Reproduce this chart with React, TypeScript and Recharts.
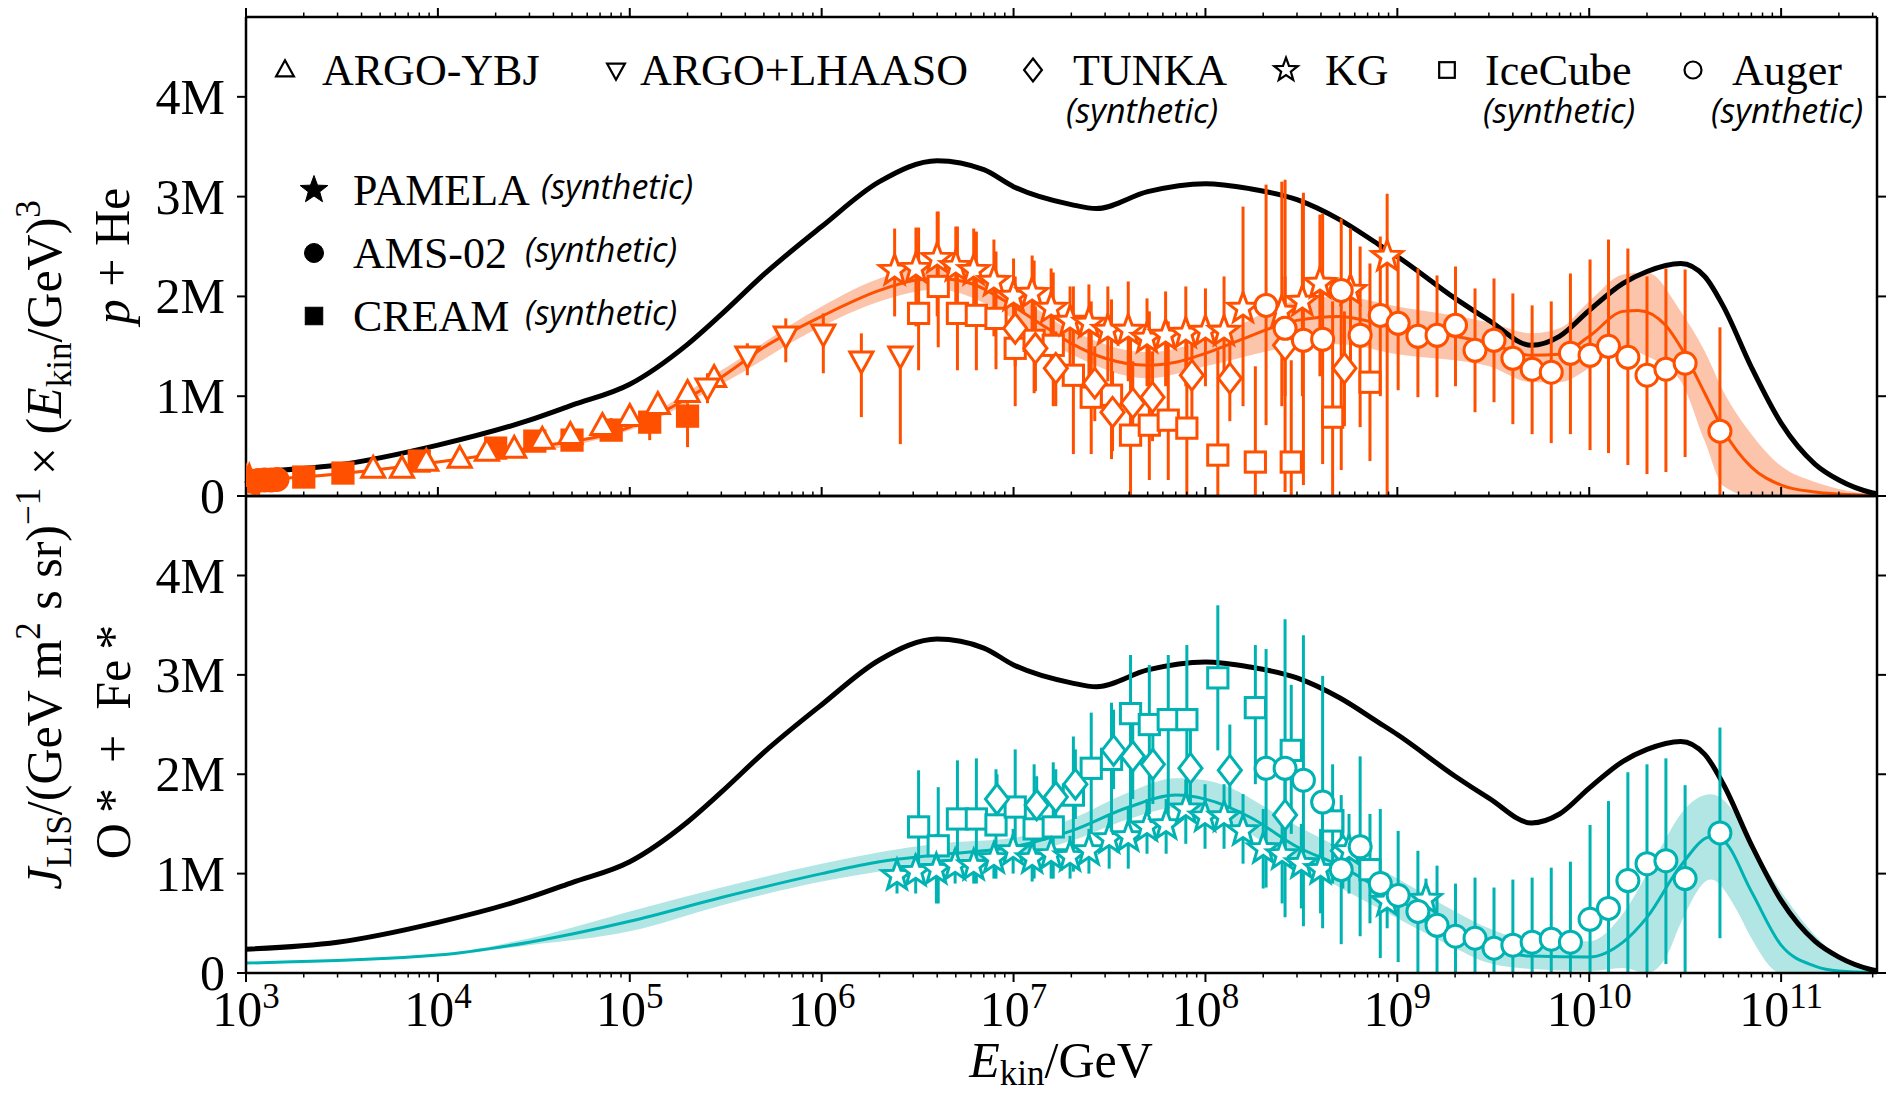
import React from 'react';
import { ComposedChart, XAxis, YAxis, Line, Area, Scatter, ErrorBar } from 'recharts';

const SERIF = '"Liberation Serif", "DejaVu Serif", "Times New Roman", serif';
const SANS = '"Open Sans", "Noto Sans", sans-serif';

const ORANGE = '#FF5000';
const ORANGE_BAND = '#FCC4AA';
const TEAL = '#00B2B2';
const TEAL_BAND = '#B2E6E4';

const X_MIN = 1e3;
const X_MAX = 3.16e11;
const Y_MAX = 4.8;
const Y_TICKS = [0, 1, 2, 3, 4];

// ---------- total (black) curve, identical in both panels (units: M) ----------
const TOTAL_E = [1e3, 3e3, 1e4, 3e4, 5e4, 1e5, 2e5, 3e5, 5e5, 1e6, 2e6, 4e6, 7e6, 1e7, 2e7, 2.7e7, 5e7, 1e8, 1.7e8, 3e8, 5e8, 8e8, 1e9, 2e9, 3e9, 5e9, 7e9, 1e10, 1.5e10, 2e10, 3e10, 4e10, 5e10, 7e10, 1e11, 1.5e11, 2e11, 3e11, 3.16e11];
const TOTAL_V = [0.24, 0.31, 0.51, 0.76, 0.91, 1.12, 1.52, 1.82, 2.22, 2.70, 3.15, 3.36, 3.27, 3.10, 2.92, 2.88, 3.05, 3.13, 3.08, 2.97, 2.77, 2.52, 2.40, 1.98, 1.76, 1.51, 1.60, 1.86, 2.13, 2.25, 2.33, 2.20, 1.90, 1.29, 0.73, 0.32, 0.16, 0.03, 0.02];

// ---------- p + He model and band ----------
const PHE_E = [1e3, 3e3, 1e4, 3e4, 1e5, 2e5, 3e5, 5e5, 1e6, 2e6, 3e6, 4e6, 6e6, 1e7, 1.5e7, 2e7, 3e7, 5e7, 7e7, 1e8, 1.5e8, 3e8, 5e8, 1e9, 2e9, 3e9, 5e9, 7e9, 1e10, 1.5e10, 1.8e10, 2.5e10, 3e10, 4e10, 5e10, 7e10, 1e11, 1.5e11, 2e11, 3.16e11];
const PHE_V = [0.15, 0.22, 0.34, 0.48, 0.69, 0.98, 1.19, 1.49, 1.80, 2.06, 2.16, 2.18, 2.13, 1.90, 1.68, 1.53, 1.38, 1.31, 1.34, 1.43, 1.56, 1.76, 1.80, 1.68, 1.60, 1.53, 1.41, 1.42, 1.60, 1.85, 1.86, 1.71, 1.49, 1.03, 0.66, 0.29, 0.11, 0.04, 0.02, 0.005];
const PHE_BAND_E = [1e3, 1e4, 1e5, 3e5, 1e6, 2e6, 4e6, 1e7, 2e7, 5e7, 1e8, 3e8, 5e8, 1e9, 3e9, 5e9, 7e9, 1e10, 1.5e10, 2e10, 3e10, 4e10, 5e10, 7e10, 1e11, 1.5e11, 2e11, 3.16e11];
const PHE_BAND_LO = [0.14, 0.33, 0.66, 1.12, 1.70, 1.95, 2.07, 1.78, 1.42, 1.18, 1.30, 1.50, 1.52, 1.42, 1.30, 1.14, 1.14, 1.28, 1.48, 1.40, 1.15, 0.55, 0.10, 0.0, 0.0, 0.0, 0.0, 0.0];
const PHE_BAND_HI = [0.16, 0.35, 0.72, 1.26, 1.90, 2.18, 2.30, 2.02, 1.66, 1.44, 1.56, 1.96, 2.00, 1.90, 1.74, 1.63, 1.68, 1.95, 2.22, 2.24, 1.85, 1.45, 1.05, 0.62, 0.30, 0.14, 0.07, 0.01];

// ---------- O* + Fe* model and band ----------
const CNO_E = [1e3, 1e4, 3e4, 1e5, 3e5, 1e6, 2e6, 4e6, 1e7, 2e7, 4e7, 7e7, 1e8, 1.7e8, 3e8, 5e8, 1e9, 2e9, 3e9, 5e9, 1e10, 1.5e10, 2e10, 3e10, 4.3e10, 5e10, 7e10, 1e11, 1.5e11, 2e11, 3.16e11];
const CNO_V = [0.10, 0.18, 0.31, 0.52, 0.76, 1.00, 1.12, 1.19, 1.27, 1.43, 1.67, 1.79, 1.75, 1.57, 1.27, 1.08, 0.74, 0.43, 0.25, 0.17, 0.16, 0.31, 0.56, 1.08, 1.37, 1.33, 0.82, 0.28, 0.07, 0.02, 0.003];
const CNO_BAND_E = [1e3, 1e4, 3e4, 1e5, 3e5, 1e6, 4e6, 1e7, 2e7, 4e7, 7e7, 1e8, 3e8, 1e9, 2e9, 3e9, 5e9, 1e10, 1.5e10, 2e10, 2.5e10, 3e10, 4.3e10, 6e10, 7e10, 1e11, 1.5e11, 2e11, 3.16e11];
const CNO_BAND_LO = [0.09, 0.17, 0.28, 0.42, 0.68, 0.92, 1.10, 1.18, 1.33, 1.55, 1.66, 1.62, 1.10, 0.55, 0.25, 0.10, 0.04, 0.02, 0.05, 0.0, 0.15, 0.50, 0.94, 0.60, 0.35, 0.0, 0.0, 0.0, 0.0];
const CNO_BAND_HI = [0.11, 0.19, 0.35, 0.62, 0.86, 1.10, 1.30, 1.36, 1.55, 1.82, 1.96, 1.94, 1.48, 0.95, 0.62, 0.45, 0.33, 0.32, 0.60, 1.00, 1.35, 1.60, 1.80, 1.55, 1.30, 0.82, 0.38, 0.16, 0.01];

// ---------- p + He data (value, lower bound, upper bound; units: M) ----------
const PAMELA_E = [1.0e3, 1.04e3];
const PAMELA_V = [0.14, 0.15];
const PAMELA_LO = [0.13, 0.14];
const PAMELA_HI = [0.15, 0.16];

const AMS_E = [1.05e3, 1.15e3, 1.25e3, 1.35e3, 1.45e3];
const AMS_V = [0.15, 0.155, 0.16, 0.16, 0.165];
const AMS_LO = [0.14, 0.145, 0.15, 0.15, 0.155];
const AMS_HI = [0.16, 0.165, 0.17, 0.17, 0.175];

const CREAM_E = [2e3, 3.2e3, 8e3, 2e4, 3.2e4, 5e4, 8e4, 1.27e5, 2e5];
const CREAM_V = [0.19, 0.23, 0.35, 0.48, 0.55, 0.56, 0.66, 0.74, 0.80];
const CREAM_LO = [0.17, 0.20, 0.31, 0.43, 0.49, 0.49, 0.56, 0.56, 0.49];
const CREAM_HI = [0.21, 0.26, 0.39, 0.53, 0.61, 0.63, 0.78, 0.83, 0.93];

const ARGO_E = [4.6e3, 6.5e3, 8.7e3, 1.3e4, 1.8e4, 2.5e4, 3.5e4, 4.9e4, 7.2e4, 1e5, 1.4e5, 2e5, 2.75e5];
const ARGO_V = [0.27, 0.27, 0.34, 0.37, 0.44, 0.47, 0.56, 0.61, 0.70, 0.79, 0.91, 1.03, 1.18];
const ARGO_LO = [0.25, 0.25, 0.31, 0.34, 0.41, 0.43, 0.52, 0.56, 0.65, 0.73, 0.84, 0.95, 1.08];
const ARGO_HI = [0.29, 0.29, 0.37, 0.40, 0.47, 0.51, 0.60, 0.66, 0.75, 0.85, 0.98, 1.11, 1.28];

const LHAASO_E = [2.54e5, 4.1e5, 6.5e5, 1.02e6, 1.61e6, 2.57e6];
const LHAASO_V = [1.09, 1.41, 1.61, 1.63, 1.36, 1.41];
const LHAASO_LO = [0.93, 1.21, 1.34, 1.23, 0.79, 0.52];
const LHAASO_HI = [1.23, 1.53, 1.78, 1.83, 1.63, 1.49];

const KG_P_E = [2.4e6, 3.1e6, 4e6, 5e6, 6.2e6, 7.9e6, 1e7, 1.25e7, 1.57e7, 1.97e7, 2.47e7, 3.1e7, 3.96e7, 4.96e7, 6.2e7, 7.9e7, 1e8, 1.25e8, 1.57e8, 2.5e8, 3.2e8, 3.95e8, 5.7e8, 8.85e8];
const KG_P_V = [2.26, 2.28, 2.38, 2.30, 2.26, 2.15, 2.00, 2.03, 1.88, 1.75, 1.73, 1.66, 1.66, 1.58, 1.61, 1.63, 1.65, 1.65, 1.88, 1.85, 1.95, 2.13, 2.06, 2.40];
const KG_P_LO = [1.80, 1.70, 1.80, 1.75, 1.72, 1.60, 1.45, 1.50, 1.35, 1.25, 1.20, 1.15, 1.15, 1.10, 1.10, 1.10, 1.10, 1.10, 0.90, 0.90, 1.00, 1.20, 1.20, 0.0];
const KG_P_HI = [2.68, 2.69, 2.85, 2.70, 2.68, 2.57, 2.38, 2.41, 2.28, 2.10, 2.12, 2.10, 2.15, 1.98, 2.05, 2.10, 2.08, 2.20, 2.90, 3.15, 2.98, 2.82, 2.68, 3.03];

const TUNKA_P_E = [1.02e7, 1.3e7, 1.66e7, 2.65e7, 3.28e7, 4.18e7, 5.3e7, 8.5e7, 1.34e8, 2.6e8, 5.3e8];
const TUNKA_P_V = [1.68, 1.48, 1.28, 1.13, 0.84, 0.93, 0.99, 1.21, 1.18, 1.51, 1.28];
const TUNKA_P_LO = [1.30, 1.05, 0.90, 0.75, 0.45, 0.50, 0.55, 0.75, 0.75, 1.00, 0.70];
const TUNKA_P_HI = [2.05, 1.90, 1.65, 1.50, 1.25, 1.35, 1.45, 1.65, 1.62, 2.20, 1.85];

const ICECUBE_E = [3.2e6, 4.05e6, 5.1e6, 6.4e6, 8.1e6, 1.02e7, 1.28e7, 1.61e7, 2.05e7, 2.54e7, 3.24e7, 4.07e7, 5.1e7, 6.4e7, 8.0e7, 1.16e8, 1.82e8, 2.8e8, 4.6e8, 7.2e8];
const ICE_P_V = [1.83, 2.10, 1.83, 1.81, 1.78, 1.48, 1.56, 1.51, 1.21, 0.99, 1.01, 0.61, 0.71, 0.76, 0.68, 0.41, 0.34, 0.34, 0.79, 1.14];
const ICE_P_LO = [1.26, 1.49, 1.26, 1.26, 1.27, 0.90, 1.03, 0.90, 0.42, 0.42, 0.37, 0.0, 0.16, 0.16, 0.0, 0.0, 0.0, 0.0, 0.0, 0.35];
const ICE_P_HI = [2.69, 2.85, 2.70, 2.65, 2.45, 2.20, 2.36, 2.24, 2.10, 1.95, 1.97, 1.75, 1.85, 1.75, 1.72, 1.46, 1.30, 1.36, 1.95, 2.33];

const AUGER_E = [2.07e8, 2.6e8, 3.24e8, 4.08e8, 5.1e8, 6.4e8, 8.15e8, 1.01e9, 1.28e9, 1.61e9, 2.01e9, 2.54e9, 3.19e9, 4e9, 5.04e9, 6.34e9, 7.98e9, 1.01e10, 1.26e10, 1.59e10, 2.0e10, 2.51e10, 3.16e10, 4.8e10];
const AUG_P_V = [1.91, 1.68, 1.56, 1.57, 2.06, 1.61, 1.81, 1.73, 1.60, 1.61, 1.71, 1.46, 1.56, 1.38, 1.27, 1.24, 1.43, 1.41, 1.50, 1.39, 1.21, 1.27, 1.33, 0.65];
const AUG_P_LO = [0.71, 0.04, 0.11, 0.32, 0.26, 0.69, 1.00, 1.06, 0.99, 0.99, 1.10, 0.84, 0.94, 0.72, 0.62, 0.53, 0.62, 0.46, 0.43, 0.31, 0.22, 0.24, 0.39, 0.0];
const AUG_P_HI = [3.12, 3.17, 3.04, 2.83, 2.78, 2.50, 2.60, 2.43, 2.28, 2.21, 2.30, 2.08, 2.18, 2.03, 1.91, 1.95, 2.23, 2.37, 2.57, 2.48, 2.20, 2.28, 2.27, 1.69];

// ---------- O* + Fe* data ----------
const KG_C_E = [2.47e6, 3.09e6, 3.96e6, 4.96e6, 6.2e6, 7.9e6, 9.95e6, 1.25e7, 1.57e7, 1.97e7, 2.47e7, 3.15e7, 3.96e7, 4.96e7, 6.24e7, 7.9e7, 9.95e7, 1.25e8, 1.57e8, 2e8, 2.51e8, 3.16e8, 3.98e8, 5.6e8, 8.85e8, 1.41e9];
const KG_C_V = [0.98, 1.02, 1.04, 1.08, 1.08, 1.15, 1.23, 1.15, 1.19, 1.17, 1.23, 1.35, 1.37, 1.47, 1.49, 1.65, 1.57, 1.57, 1.43, 1.25, 1.19, 1.10, 1.04, 1.23, 0.72, 0.74];
const KG_C_LO = [0.80, 0.80, 0.70, 0.90, 0.90, 0.95, 1.00, 0.92, 0.95, 0.95, 1.00, 1.05, 1.05, 1.20, 1.20, 1.30, 1.25, 1.25, 1.10, 0.85, 0.70, 0.65, 0.60, 0.80, 0.45, 0.50];
const KG_C_HI = [1.11, 1.20, 1.40, 1.25, 1.22, 1.30, 1.45, 1.35, 1.40, 1.38, 1.45, 1.60, 1.65, 1.75, 1.75, 1.95, 1.90, 1.90, 1.80, 1.65, 1.55, 1.50, 1.45, 1.60, 1.00, 0.95];

const ICE_C_V = [1.47, 1.28, 1.55, 1.55, 1.49, 1.67, 1.45, 1.47, 1.79, 2.06, 2.15, 2.61, 2.50, 2.55, 2.55, 2.97, 2.67, 2.24, 1.53, 1.04];
const ICE_C_LO = [1.02, 0.70, 1.02, 0.90, 0.95, 1.20, 0.95, 0.95, 1.02, 1.40, 1.35, 1.53, 1.60, 1.60, 1.70, 2.24, 1.90, 1.40, 0.90, 0.50];
const ICE_C_HI = [2.04, 1.87, 2.14, 2.16, 2.05, 2.25, 2.10, 2.12, 2.38, 2.62, 2.72, 3.20, 3.10, 3.20, 3.30, 3.70, 3.30, 2.90, 2.10, 1.60];

const TUNKA_C_E = [8.2e6, 1.32e7, 1.66e7, 2.1e7, 3.32e7, 4.18e7, 5.32e7, 8.35e7, 1.34e8, 2.6e8, 5.2e8];
const TUNKA_C_V = [1.75, 1.69, 1.77, 1.90, 2.24, 2.18, 2.10, 2.06, 2.04, 1.59, 1.23];
const TUNKA_C_LO = [1.50, 1.40, 1.50, 1.55, 1.85, 1.75, 1.70, 1.70, 1.65, 1.20, 0.85];
const TUNKA_C_HI = [2.00, 1.98, 2.05, 2.25, 2.65, 2.60, 2.50, 2.45, 2.50, 2.00, 1.65];

const AUG_C_V = [2.06, 2.06, 1.94, 1.72, 1.04, 1.27, 0.90, 0.78, 0.62, 0.48, 0.37, 0.35, 0.25, 0.28, 0.31, 0.34, 0.31, 0.54, 0.65, 0.93, 1.10, 1.13, 0.95, 1.41];
const AUG_C_LO = [0.86, 0.56, 0.47, 0.45, 0.29, 0.37, 0.15, 0.11, 0.0, 0.0, 0.0, 0.0, 0.0, 0.0, 0.0, 0.0, 0.0, 0.0, 0.0, 0.0, 0.0, 0.09, 0.0, 0.35];
const AUG_C_HI = [3.26, 3.56, 3.40, 2.99, 1.79, 2.18, 1.65, 1.43, 1.23, 1.08, 0.90, 0.96, 0.86, 0.94, 0.96, 1.06, 1.12, 1.49, 1.73, 2.02, 2.10, 2.16, 1.89, 2.47];

// ---------- builders ----------
const curve = (E: number[], V: number[]) => E.map((e, i) => ({ E: e, v: V[i] }));
const band = (E: number[], LO: number[], HI: number[]) => E.map((e, i) => ({ E: e, r: [LO[i], HI[i]] }));
const pts = (E: number[], V: number[], LO: number[], HI: number[]) =>
  E.map((e, i) => ({ E: e, v: V[i], err: [Math.max(0, V[i] - LO[i]), Math.max(0, HI[i] - V[i])] }));

const X_TICKS: number[] = [];
for (let p = 3; p <= 11; p++) {
  for (let m = 1; m <= 9; m++) {
    const v = m * Math.pow(10, p);
    if (v <= X_MAX) X_TICKS.push(v);
  }
}

type Kind = 'circle' | 'square' | 'diamond' | 'star' | 'tri' | 'triDown';

function starPoints(cx: number, cy: number, R: number, r: number) {
  const a: string[] = [];
  for (let i = 0; i < 10; i++) {
    const ang = -Math.PI / 2 + (i * Math.PI) / 5;
    const rad = i % 2 === 0 ? R : r;
    a.push(`${cx + rad * Math.cos(ang)},${cy + rad * Math.sin(ang)}`);
  }
  return a.join(' ');
}

function Marker(props: { cx?: number; cy?: number; kind: Kind; color: string; filled?: boolean; s?: number; sw?: number }) {
  const { cx, cy, kind, color, filled } = props;
  if (cx == null || cy == null || isNaN(cx) || isNaN(cy)) return null;
  const s = props.s ?? 11;
  const sw = props.sw ?? 3;
  const fill = filled ? color : '#fff';
  const common = { fill, stroke: color, strokeWidth: sw, strokeLinejoin: 'miter' as const };
  switch (kind) {
    case 'circle':
      return <circle cx={cx} cy={cy} r={s} {...common} />;
    case 'square':
      return <rect x={cx - s * 0.92} y={cy - s * 0.92} width={s * 1.84} height={s * 1.84} {...common} />;
    case 'diamond':
      return <polygon points={`${cx},${cy - s * 1.35} ${cx + s * 1.05},${cy} ${cx},${cy + s * 1.35} ${cx - s * 1.05},${cy}`} {...common} />;
    case 'star':
      return <polygon points={starPoints(cx, cy, s * 1.45, s * 0.6)} {...common} />;
    case 'tri':
      return <polygon points={`${cx},${cy - s * 1.15} ${cx + s * 1.05},${cy + s * 0.75} ${cx - s * 1.05},${cy + s * 0.75}`} {...common} />;
    case 'triDown':
      return <polygon points={`${cx},${cy + s * 1.15} ${cx + s * 1.05},${cy - s * 0.75} ${cx - s * 1.05},${cy - s * 0.75}`} {...common} />;
  }
  return null;
}

// ---------- tick renderers ----------
const makeXTick = (dir: 1 | -1, withLabel: boolean) => (p: any) => {
  const v = p.payload.value;
  const lg = Math.log10(v);
  const major = Math.abs(lg - Math.round(lg)) < 1e-6;
  const len = major ? 9 : 4.5;
  return (
    <g>
      <line x1={p.x} x2={p.x} y1={p.y} y2={p.y + dir * len} stroke="#000" strokeWidth={major ? 2 : 1.5} />
      {withLabel && major ? (
        <text x={p.x} y={p.y + 53} textAnchor="middle" fontFamily={SERIF} fontSize={50} fill="#000">
          10<tspan dy={-18} fontSize={35}>{Math.round(lg)}</tspan>
        </text>
      ) : null}
    </g>
  );
};

const makeYTick = (dir: 1 | -1, withLabel: boolean) => (p: any) => {
  const v = p.payload.value;
  return (
    <g>
      <line x1={p.x} x2={p.x + dir * 9} y1={p.y} y2={p.y} stroke="#000" strokeWidth={2} />
      {withLabel ? (
        <text x={p.x - 21} y={p.y + 17} textAnchor="end" fontFamily={SERIF} fontSize={50} fill="#000">
          {v === 0 ? '0' : `${v}M`}
        </text>
      ) : null}
    </g>
  );
};

// ---------- layout ----------
const W = 1891;
const PLOT_L = 246;
const PLOT_R = 1877;
const AX_W_L = 90;
const AX_W_R = 10;
const AX_H = 10;

type SeriesDef = { name: string; kind: Kind; filled: boolean; data: any[] };

const UPPER_SERIES: SeriesDef[] = [
  { name: 'CREAM', kind: 'square', filled: true, data: pts(CREAM_E, CREAM_V, CREAM_LO, CREAM_HI) },
  { name: 'AMS', kind: 'circle', filled: true, data: pts(AMS_E, AMS_V, AMS_LO, AMS_HI) },
  { name: 'PAMELA', kind: 'star', filled: true, data: pts(PAMELA_E, PAMELA_V, PAMELA_LO, PAMELA_HI) },
  { name: 'ARGO', kind: 'tri', filled: false, data: pts(ARGO_E, ARGO_V, ARGO_LO, ARGO_HI) },
  { name: 'LHAASO', kind: 'triDown', filled: false, data: pts(LHAASO_E, LHAASO_V, LHAASO_LO, LHAASO_HI) },
  { name: 'IceCube', kind: 'square', filled: false, data: pts(ICECUBE_E, ICE_P_V, ICE_P_LO, ICE_P_HI) },
  { name: 'TUNKA', kind: 'diamond', filled: false, data: pts(TUNKA_P_E, TUNKA_P_V, TUNKA_P_LO, TUNKA_P_HI) },
  { name: 'KG', kind: 'star', filled: false, data: pts(KG_P_E, KG_P_V, KG_P_LO, KG_P_HI) },
  { name: 'Auger', kind: 'circle', filled: false, data: pts(AUGER_E, AUG_P_V, AUG_P_LO, AUG_P_HI) },
];

const LOWER_SERIES: SeriesDef[] = [
  { name: 'IceCube', kind: 'square', filled: false, data: pts(ICECUBE_E, ICE_C_V, ICE_C_LO, ICE_C_HI) },
  { name: 'TUNKA', kind: 'diamond', filled: false, data: pts(TUNKA_C_E, TUNKA_C_V, TUNKA_C_LO, TUNKA_C_HI) },
  { name: 'KG', kind: 'star', filled: false, data: pts(KG_C_E, KG_C_V, KG_C_LO, KG_C_HI) },
  { name: 'Auger', kind: 'circle', filled: false, data: pts(AUGER_E, AUG_C_V, AUG_C_LO, AUG_C_HI) },
];

function Panel(props: {
  height: number;
  margin: { top: number; right: number; bottom: number; left: number };
  bottomH: number;
  color: string;
  bandColor: string;
  bandData: any[];
  modelData: any[];
  series: SeriesDef[];
  bottomLabels: boolean;
  topTicks: boolean;
  bottomDir: 1 | -1;
}) {
  const { color } = props;
  return (
    <ComposedChart width={W} height={props.height} margin={props.margin}>
      <XAxis
        xAxisId="b"
        type="number"
        dataKey="E"
        scale="log"
        domain={[X_MIN, X_MAX]}
        allowDataOverflow
        ticks={X_TICKS}
        interval={0}
        tickSize={0}
        tickMargin={0}
        tickLine={false}
        axisLine={{ stroke: '#000', strokeWidth: 2.5 }}
        tick={makeXTick(props.bottomDir, props.bottomLabels)}
        height={props.bottomH}
        orientation="bottom"
      />
      <XAxis
        xAxisId="t"
        type="number"
        dataKey="E"
        scale="log"
        domain={[X_MIN, X_MAX]}
        allowDataOverflow
        ticks={X_TICKS}
        interval={0}
        tickSize={0}
        tickMargin={0}
        tickLine={false}
        axisLine={{ stroke: '#000', strokeWidth: 2.5 }}
        tick={props.topTicks ? makeXTick(-1, false) : false}
        height={AX_H}
        orientation="top"
      />
      <YAxis
        yAxisId="l"
        type="number"
        dataKey="v"
        domain={[0, Y_MAX]}
        allowDataOverflow
        ticks={Y_TICKS}
        interval={0}
        tickSize={0}
        tickMargin={0}
        tickLine={false}
        axisLine={{ stroke: '#000', strokeWidth: 2.5 }}
        tick={makeYTick(-1, true)}
        width={AX_W_L}
        orientation="left"
      />
      <YAxis
        yAxisId="r"
        type="number"
        dataKey="v"
        domain={[0, Y_MAX]}
        allowDataOverflow
        ticks={Y_TICKS}
        interval={0}
        tickSize={0}
        tickMargin={0}
        tickLine={false}
        axisLine={{ stroke: '#000', strokeWidth: 2.5 }}
        tick={makeYTick(1, false)}
        width={AX_W_R}
        orientation="right"
      />
      <Area
        xAxisId="b"
        yAxisId="l"
        data={props.bandData}
        dataKey="r"
        type="monotone"
        stroke="none"
        fill={props.bandColor}
        fillOpacity={1}
        dot={false}
        activeDot={false}
        isAnimationActive={false}
      />
      <Line
        xAxisId="b"
        yAxisId="l"
        data={props.modelData}
        dataKey="v"
        type="monotone"
        stroke={color}
        strokeWidth={3}
        dot={false}
        activeDot={false}
        isAnimationActive={false}
      />
      <Line
        xAxisId="b"
        yAxisId="l"
        data={curve(TOTAL_E, TOTAL_V)}
        dataKey="v"
        type="monotone"
        stroke="#000"
        strokeWidth={5}
        dot={false}
        activeDot={false}
        isAnimationActive={false}
      />
      {props.series.map((s) => (
        <Scatter
          key={s.name + (s.filled ? 'f' : 'h')}
          xAxisId="b"
          yAxisId="l"
          data={s.data}
          dataKey="v"
          isAnimationActive={false}
          shape={(p: any) => <Marker cx={p.cx} cy={p.cy} kind={s.kind} color={color} filled={s.filled} />}
        >
          <ErrorBar dataKey="err" direction="y" width={0} stroke={color} strokeWidth={3} />
        </Scatter>
      ))}
    </ComposedChart>
  );
}

const LEGEND_TOP: { kind: Kind; label: string; mx: number; tx: number; syn: number | null }[] = [
  { kind: 'tri', label: 'ARGO-YBJ', mx: 285, tx: 322, syn: null },
  { kind: 'triDown', label: 'ARGO+LHAASO', mx: 616, tx: 640, syn: null },
  { kind: 'diamond', label: 'TUNKA', mx: 1033, tx: 1073, syn: 1142 },
  { kind: 'star', label: 'KG', mx: 1286, tx: 1325, syn: null },
  { kind: 'square', label: 'IceCube', mx: 1447, tx: 1485, syn: 1559 },
  { kind: 'circle', label: 'Auger', mx: 1693, tx: 1732, syn: 1787 },
];

const LEGEND_LEFT: { kind: Kind; label: string; y: number; synX: number }[] = [
  { kind: 'star', label: 'PAMELA', y: 190, synX: 541 },
  { kind: 'circle', label: 'AMS-02', y: 253, synX: 525 },
  { kind: 'square', label: 'CREAM', y: 316, synX: 525 },
];

function Overlay() {
  const syn = (x: number, y: number, anchor: 'start' | 'middle') => (
    <text x={x} y={y} textAnchor={anchor} fontFamily={SANS} fontStyle="italic" fontSize={34} fill="#000">
      (synthetic)
    </text>
  );
  return (
    <svg width={W} height={1095} style={{ position: 'absolute', left: 0, top: 0, pointerEvents: 'none' }}>
      {/* top legend */}
      {LEGEND_TOP.map((l) => (
        <g key={l.label}>
          <Marker cx={l.mx} cy={70} kind={l.kind} color="#000" filled={false} s={8.5} sw={2.2} />
          <text x={l.tx} y={85} fontFamily={SERIF} fontSize={44} fill="#000">
            {l.label}
          </text>
          {l.syn != null ? syn(l.syn, 123, 'middle') : null}
        </g>
      ))}
      {/* left legend */}
      {LEGEND_LEFT.map((l) => (
        <g key={l.label}>
          <Marker cx={314} cy={l.y} kind={l.kind} color="#000" filled s={l.kind === 'star' ? 10 : 9.5} sw={1} />
          <text x={353} y={l.y + 15} fontFamily={SERIF} fontSize={44} fill="#000">
            {l.label}
          </text>
          {syn(l.synX, l.y + 9, 'start')}
        </g>
      ))}
      {/* y-axis title */}
      <text transform="translate(61,545) rotate(-90)" textAnchor="middle" fontFamily={SERIF} fontSize={50} fill="#000">
        <tspan fontStyle="italic">J</tspan>
        <tspan fontSize={35} dy={10}>LIS</tspan>
        <tspan dy={-10}>/(GeV m</tspan>
        <tspan fontSize={35} dy={-21}>2</tspan>
        <tspan dy={21}> s sr)</tspan>
        <tspan fontSize={35} dy={-21}>−1</tspan>
        <tspan dy={21}> × (</tspan>
        <tspan fontStyle="italic">E</tspan>
        <tspan fontSize={35} dy={10}>kin</tspan>
        <tspan dy={-10}>/GeV)</tspan>
        <tspan fontSize={35} dy={-21}>3</tspan>
      </text>
      <text transform="translate(129,256) rotate(-90)" textAnchor="middle" fontFamily={SERIF} fontSize={50} fill="#000" style={{ whiteSpace: 'pre' }}>
        <tspan fontStyle="italic">p</tspan>
        <tspan> + He</tspan>
      </text>
      <text transform="translate(130,742) rotate(-90)" textAnchor="middle" fontFamily={SERIF} fontSize={50} fill="#000" style={{ whiteSpace: 'pre' }}>
        {'O\u2009*  +  Fe\u2009*'}
      </text>
      {/* x-axis title */}
      <text x={1061} y={1077} textAnchor="middle" fontFamily={SERIF} fontSize={50} fill="#000">
        <tspan fontStyle="italic">E</tspan>
        <tspan fontSize={35} dy={8}>kin</tspan>
        <tspan dy={-8}>/GeV</tspan>
      </text>
    </svg>
  );
}

export default function App() {
  const upperBottomH = 30;
  const upperH = 496 + upperBottomH;
  const lowerTop = 486;
  const lowerBottomH = 70;
  const lowerH = 973 - lowerTop + lowerBottomH;
  return (
    <div style={{ position: 'absolute', left: 0, top: 0, width: W, height: 1095, background: '#fff', overflow: 'hidden' }}>
      <div style={{ position: 'absolute', left: 0, top: 0 }}>
        <Panel
          height={upperH}
          margin={{ top: 17 - AX_H, right: W - PLOT_R - AX_W_R, bottom: 0, left: PLOT_L - AX_W_L }}
          bottomH={upperBottomH}
          color={ORANGE}
          bandColor={ORANGE_BAND}
          bandData={band(PHE_BAND_E, PHE_BAND_LO, PHE_BAND_HI)}
          modelData={curve(PHE_E, PHE_V)}
          series={UPPER_SERIES}
          bottomLabels={false}
          topTicks
          bottomDir={-1}
        />
      </div>
      <div style={{ position: 'absolute', left: 0, top: lowerTop }}>
        <Panel
          height={lowerH}
          margin={{ top: 0, right: W - PLOT_R - AX_W_R, bottom: 0, left: PLOT_L - AX_W_L }}
          bottomH={lowerBottomH}
          color={TEAL}
          bandColor={TEAL_BAND}
          bandData={band(CNO_BAND_E, CNO_BAND_LO, CNO_BAND_HI)}
          modelData={curve(CNO_E, CNO_V)}
          series={LOWER_SERIES}
          bottomLabels
          topTicks={false}
          bottomDir={1}
        />
      </div>
      <Overlay />
    </div>
  );
}
